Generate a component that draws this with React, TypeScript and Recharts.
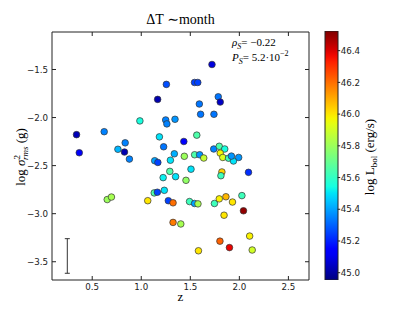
import React from 'react';
import {
    Bar,
    BarChart,
    ErrorBar,
    ReferenceArea,
    Scatter,
    ScatterChart,
    XAxis,
    YAxis,
} from 'recharts';

// redshift of each source
const zValues = [
    1.256, 1.167, 0.986, 1.249, 1.261, 1.344, 0.34, 0.622, 0.368, 0.836,
    1.185, 1.228, 0.762, 0.829, 0.879, 1.137, 1.169, 1.297, 1.337, 1.721,
    1.543, 1.576, 1.785, 1.805, 1.592, 1.605, 1.741, 1.566, 1.434, 1.439,
    1.544, 1.595, 1.637, 1.739, 1.795, 1.851, 1.805, 1.831, 1.89, 1.94,
    1.919, 1.993, 1.507, 1.291, 1.35, 1.223, 1.456, 1.822, 1.812, 2.093,
    1.235, 1.132, 1.164, 1.066, 1.276, 1.324, 1.492, 1.543, 1.578, 1.746,
    1.795, 1.863, 1.93, 2.026, 2.042, 1.844, 1.324, 1.403, 2.105, 1.802,
    1.899, 1.583, 2.131, 0.653, 0.696,
];

// log sigma^2_rms (g band)
const logSigma = [
    -1.655, -1.811, -2.035, -2.025, -2.066, -2.018, -2.178, -2.147, -2.366, -2.263,
    -2.201, -2.304, -2.33, -2.359, -2.432, -2.449, -2.467, -2.444, -2.377, -1.448,
    -1.635, -1.635, -1.784, -1.839, -1.859, -1.966, -1.966, -2.183, -2.249, -2.403,
    -2.387, -2.387, -2.421, -2.327, -2.299, -2.327, -2.37, -2.415, -2.423, -2.452,
    -2.401, -2.415, -2.537, -2.56, -2.615, -2.625, -2.653, -2.566, -2.605, -2.57,
    -2.757, -2.784, -2.777, -2.865, -2.865, -2.887, -2.874, -2.894, -2.898, -2.894,
    -2.846, -2.824, -2.879, -2.812, -2.97, -3.016, -3.091, -3.107, -3.233, -3.286,
    -3.353, -3.386, -3.378, -2.853, -2.827,
];

// log L_bol, used for the colour
const logLbol = [
    45.27, 45.02, 45.55, 45.35, 45.35, 45.38, 45.03, 45.35, 45.12, 45.35,
    45.5, 45.33, 45.43, 45.02, 45.35, 45.4, 45.25, 45.5, 45.42, 45.08,
    45.25, 45.25, 45.33, 45.05, 45.33, 45.33, 45.33, 45.65, 45.15, 45.8,
    45.65, 45.38, 45.88, 45.35, 45.65, 45.55, 45.97, 45.92, 45.62, 45.5,
    45.38, 45.38, 45.5, 45.65, 45.5, 45.52, 45.78, 46.03, 45.62, 45.22,
    45.5, 45.65, 45.25, 46.0, 45.25, 46.2, 45.62, 45.4, 45.82, 45.62,
    45.98, 46.08, 46.0, 45.62, 46.5, 46.0, 46.18, 45.82, 45.98, 46.22,
    46.38, 46.0, 45.9, 45.8, 45.82,
];

// typical error bar drawn in the lower left
const errZ = [0.246];
const errY = [-3.44];
const errSize = [0.18];

const xTicks = [0.5, 1.0, 1.5, 2.0, 2.5];
const yTicks = [-3.5, -3.0, -2.5, -2.0, -1.5];
const cbTicks = [45.0, 45.2, 45.4, 45.6, 45.8, 46.0, 46.2, 46.4];

const xDomain: [number, number] = [0.09, 2.71];
const yDomain: [number, number] = [-3.69, -1.11];
const cbDomain: [number, number] = [44.954, 46.524];

const PLOT = { left: 52, right: 309, top: 32, bottom: 280 };
const CB = { left: 10, right: 22.7 };
const AXIS = '#222';
const TICK_FONT = '"DejaVu Sans", sans-serif';
const LABEL_FONT = '"Liberation Serif", "DejaVu Serif", serif';

// matplotlib "jet" segment data
const JET_R = [[0, 0], [0.35, 0], [0.66, 1], [0.89, 1], [1, 0.5]];
const JET_G = [[0, 0], [0.125, 0], [0.375, 1], [0.64, 1], [0.91, 0], [1, 0]];
const JET_B = [[0, 0.5], [0.11, 1], [0.34, 1], [0.65, 0], [1, 0]];

function seg(table: number[][], t: number): number {
    for (let i = 1; i < table.length; i++) {
        const [x0, y0] = table[i - 1];
        const [x1, y1] = table[i];
        if (t <= x1) {
            return y0 + ((t - x0) / (x1 - x0)) * (y1 - y0);
        }
    }
    return table[table.length - 1][1];
}

function jet(t: number): string {
    const c = Math.min(1, Math.max(0, t));
    const r = Math.round(seg(JET_R, c) * 255);
    const g = Math.round(seg(JET_G, c) * 255);
    const b = Math.round(seg(JET_B, c) * 255);
    return `rgb(${r},${g},${b})`;
}

function lumColor(v: number): string {
    return jet((v - cbDomain[0]) / (cbDomain[1] - cbDomain[0]));
}

const points = zValues.map((z, i) => ({
    z,
    y: logSigma[i],
    color: lumColor(logLbol[i]),
}));

const errPoints = errZ.map((z, i) => ({ z, y: errY[i], err: errSize[i] }));

const cbData = [{ name: 'cb', range: cbDomain }];
const gradStops = Array.from({ length: 41 }, (_, i) => i / 40);

function fmt(v: number): string {
    return v.toFixed(1).replace('-', '\u2212');
}

function XTick(props: any) {
    const { x, payload } = props;
    return (
        <g>
            <line x1={x} x2={x} y1={PLOT.bottom} y2={PLOT.bottom - 4} stroke={AXIS} />
            <line x1={x} x2={x} y1={PLOT.top} y2={PLOT.top + 4} stroke={AXIS} />
            <text
                x={x}
                y={PLOT.bottom + 10}
                textAnchor="middle"
                fontSize={8.7}
                fontFamily={TICK_FONT}
                fill={AXIS}
            >
                {fmt(payload.value)}
            </text>
        </g>
    );
}

function YTick(props: any) {
    const { y, payload } = props;
    return (
        <g>
            <line x1={PLOT.left} x2={PLOT.left + 4} y1={y} y2={y} stroke={AXIS} />
            <line x1={PLOT.right} x2={PLOT.right - 4} y1={y} y2={y} stroke={AXIS} />
            <text
                x={PLOT.left - 4}
                y={y + 3.2}
                textAnchor="end"
                fontSize={8.7}
                fontFamily={TICK_FONT}
                fill={AXIS}
            >
                {fmt(payload.value)}
            </text>
        </g>
    );
}

function CbTick(props: any) {
    const { y, payload } = props;
    return (
        <g>
            <line x1={CB.right} x2={CB.right + 2.5} y1={y} y2={y} stroke={AXIS} />
            <text
                x={CB.right + 3}
                y={y + 3.2}
                textAnchor="start"
                fontSize={8.7}
                fontFamily={TICK_FONT}
                fill={AXIS}
            >
                {payload.value.toFixed(1)}
            </text>
        </g>
    );
}

function Dot(props: any) {
    const { cx, cy, payload } = props;
    return <circle cx={cx} cy={cy} r={3.3} fill={payload.color} stroke="#333" strokeWidth={0.7} />;
}

function Labels() {
    return (
        <svg
            width={415}
            height={312}
            style={{ position: 'absolute', left: 0, top: 0, pointerEvents: 'none' }}
        >
            <g fontFamily={LABEL_FONT} fill="#000">
                <text x={180.5} y={24} textAnchor="middle" fontSize={14}>
                    ΔT ∼month
                </text>
                <text x={180.5} y={301} textAnchor="middle" fontSize={13}>
                    z
                </text>
                <text transform="translate(25,157) rotate(-90)" textAnchor="middle" fontSize={13}>
                    log <tspan fontStyle="italic">σ</tspan>
                    <tspan fontSize={9} dy={-5}>2</tspan>
                    <tspan fontSize={9} fontStyle="italic" dx={-5} dy={8}>rms</tspan>
                    <tspan dy={-3}> (g)</tspan>
                </text>
                <text transform="translate(374,157) rotate(-90)" textAnchor="middle" fontSize={13}>
                    log L<tspan fontSize={9} dy={3}>bol</tspan>
                    <tspan dy={-3}> (erg/s)</tspan>
                </text>
                <text x={232} y={46} fontSize={11}>
                    <tspan fontStyle="italic">ρ</tspan>
                    <tspan fontSize={8} fontStyle="italic" dy={3}>S</tspan>
                    <tspan dy={-3}>= −0.22</tspan>
                </text>
                <text x={232} y={61} fontSize={11}>
                    <tspan fontStyle="italic">P</tspan>
                    <tspan fontSize={8} fontStyle="italic" dy={3}>S</tspan>
                    <tspan dy={-3}>= 5.2·10</tspan>
                    <tspan fontSize={8} dy={-5}>−2</tspan>
                </text>
            </g>
        </svg>
    );
}

export default function App() {
    return (
        <div style={{ position: 'absolute', left: 0, top: 0, width: 415, height: 312, background: '#fff' }}>
            <ScatterChart
                width={415}
                height={312}
                margin={{ top: PLOT.top, right: 415 - PLOT.right, bottom: 0, left: 0 }}
            >
                <XAxis
                    type="number"
                    dataKey="z"
                    domain={xDomain}
                    allowDataOverflow
                    ticks={xTicks}
                    interval={0}
                    height={312 - PLOT.bottom}
                    axisLine={false}
                    tickLine={false}
                    tick={(p: any) => <XTick {...p} />}
                />
                <YAxis
                    type="number"
                    dataKey="y"
                    domain={yDomain}
                    allowDataOverflow
                    ticks={yTicks}
                    interval={0}
                    width={PLOT.left}
                    axisLine={false}
                    tickLine={false}
                    tick={(p: any) => <YTick {...p} />}
                />
                <ReferenceArea
                    x1={xDomain[0]}
                    x2={xDomain[1]}
                    y1={yDomain[0]}
                    y2={yDomain[1]}
                    fill="none"
                    fillOpacity={0}
                    stroke={AXIS}
                    strokeWidth={1}
                />
                <Scatter
                    data={errPoints}
                    isAnimationActive={false}
                    shape={() => <g />}
                >
                    <ErrorBar dataKey="err" direction="y" width={2.5} stroke="#333" strokeWidth={1} />
                </Scatter>
                <Scatter data={points} isAnimationActive={false} shape={(p: any) => <Dot {...p} />} />
            </ScatterChart>
            <div style={{ position: 'absolute', left: 315, top: 0 }}>
                <BarChart
                    width={100}
                    height={312}
                    data={cbData}
                    margin={{ top: 31, right: 0, bottom: 32, left: CB.left }}
                    barCategoryGap={0}
                >
                    <defs>
                        <linearGradient id="jetGrad" x1="0" y1="1" x2="0" y2="0">
                            {gradStops.map((t) => (
                                <stop key={t} offset={t} stopColor={jet(t)} />
                            ))}
                        </linearGradient>
                    </defs>
                    <XAxis dataKey="name" hide />
                    <YAxis
                        type="number"
                        orientation="right"
                        domain={cbDomain}
                        allowDataOverflow
                        ticks={cbTicks}
                        interval={0}
                        width={100 - CB.right}
                        axisLine={false}
                        tickLine={false}
                        tick={(p: any) => <CbTick {...p} />}
                    />
                    <Bar
                        dataKey="range"
                        fill="url(#jetGrad)"
                        stroke={AXIS}
                        strokeWidth={1}
                        isAnimationActive={false}
                    />
                </BarChart>
            </div>
            <Labels />
        </div>
    );
}
